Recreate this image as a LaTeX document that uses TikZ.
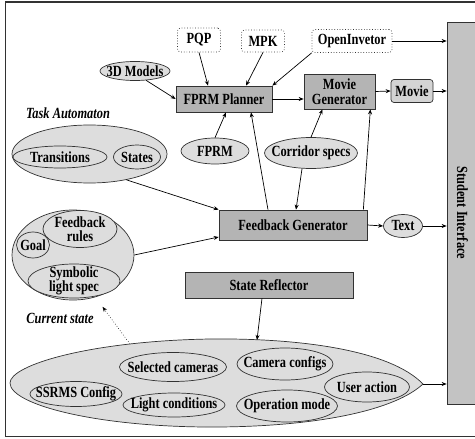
\documentclass[tikz,border=0pt]{standalone}
\usepackage{fontspec}
\setmainfont{Liberation Serif}[FakeStretch=0.8]
\usetikzlibrary{arrows.meta, shapes.geometric}

\definecolor{boxgray}{RGB}{180,180,180}
\definecolor{ovalgray}{RGB}{221,221,221}
\definecolor{sigray}{RGB}{195,195,195}
\definecolor{moviegray}{RGB}{212,212,212}
\definecolor{edgegray}{RGB}{50,50,50}

\begin{document}
\begin{tikzpicture}[x=1pt, y=-1pt, >={Stealth[length=5pt, width=4pt]},
  font=\fontsize{15.5}{14.5}\selectfont\bfseries,
  every node/.style={inner sep=0pt},
  block/.style={draw=edgegray, fill=boxgray, align=center, line width=0.7pt},
  tool/.style={draw=edgegray, dotted, rounded corners=3pt, fill=white, line width=0.7pt},
  oval/.style={ellipse, draw=edgegray, fill=ovalgray, line width=0.7pt},
  caption/.style={font=\fontsize{15.5}{14.5}\selectfont\bfseries\itshape},
  link/.style={->, line width=0.7pt, black}]
  \useasboundingbox (0,0) rectangle (475,439);
  \draw[edgegray, line width=1pt] (5,2) rectangle (480,436);

  % planning tools
  \node[tool, minimum width=43pt, minimum height=24pt] (pqp) at (199,40) {PQP};
  \node[tool, minimum width=43pt, minimum height=22pt] (mpk) at (263,41) {MPK};
  \node[tool, minimum width=80pt, minimum height=23pt] (openinv) at (352,41) {OpenInvetor};
  \node[oval, minimum width=70pt, minimum height=19pt, label=center:3D Models] (models) at (135,71) {};

  \node[block, minimum width=96pt, minimum height=26pt] (planner) at (224,99) {FPRM Planner};
  \node[block, minimum width=71pt, minimum height=35pt] (moviegen) at (339.5,91.5) {Movie\\Generator};
  \node[block, fill=moviegray, rounded corners=3pt, minimum width=42pt, minimum height=23pt] (movie) at (412,91) {Movie};
  \node[draw=edgegray, fill=sigray, line width=0.7pt, minimum width=31pt, minimum height=382pt,
        label={[rotate=-90]center:Student Interface}] (student) at (462.5,213) {};

  % task automaton
  \node[caption] (tasklbl) at (68,113) {Task Automaton};
  \node[oval, minimum width=155pt, minimum height=58pt] (task) at (89.5,154) {};
  \node[oval, minimum width=94pt, minimum height=22pt, label=center:Transitions] (trans) at (60,157) {};
  \node[oval, minimum width=47pt, minimum height=24pt, label=center:States] (states) at (137,157) {};

  \node[oval, minimum width=68pt, minimum height=26pt, label=center:FPRM] (fprm) at (215,151) {};
  \node[oval, minimum width=93pt, minimum height=31pt, label=center:Corridor specs] (corridor) at (311,153) {};
  \node[block, minimum width=148pt, minimum height=30pt] (feedback) at (293,225) {Feedback Generator};
  \node[oval, minimum width=39pt, minimum height=23pt, label=center:Text] (text) at (403,226) {};

  % current state
  \node[oval, minimum width=122pt, minimum height=90pt] (current) at (73,255) {};
  \node[oval, minimum width=74pt, minimum height=37pt, label={[align=center]center:Feedback\\rules}] (rules) at (80,229) {};
  \node[oval, minimum width=33pt, minimum height=26pt, label=center:Goal] (goal) at (33,245) {};
  \node[oval, minimum width=92pt, minimum height=34pt, label={[align=center]center:Symbolic\\light spec}] (light) at (74,281) {};
  \node[caption] (curlbl) at (60,318) {Current state};

  \node[block, minimum width=168pt, minimum height=26pt] (reflector) at (269,285) {State Reflector};

  % world state
  \coordinate (tip) at (423,384);
  \coordinate (eggtop) at (257,340);
  \coordinate (eggleft) at (130,344);
  \draw[draw=edgegray, fill=ovalgray, line width=0.7pt] (tip)
    .. controls (390,350) and (300,338) .. (210,339)
    .. controls (90,341) and (10,365) .. (10,383)
    .. controls (10,405) and (100,428) .. (220,427)
    .. controls (320,426) and (395,410) .. (tip) -- cycle;
  \node[oval, minimum width=92pt, minimum height=25pt, label=center:SSRMS Config] (ssrms) at (76,394) {};
  \node[oval, minimum width=107pt, minimum height=29pt, label=center:Selected cameras] (cameras) at (173,367) {};
  \node[oval, minimum width=102pt, minimum height=24pt, label=center:Light conditions] (lightcond) at (174,405) {};
  \node[oval, minimum width=96pt, minimum height=32pt, label=center:Camera configs] (camcfg) at (285,364) {};
  \node[oval, minimum width=101pt, minimum height=32pt, label=center:Operation mode] (opmode) at (287,406) {};
  \node[oval, minimum width=85pt, minimum height=30pt, label=center:User action] (useraction) at (367,387) {};

  % connectors
  \draw[link] (pqp.south) -- ([xshift=-16pt]planner.north);
  \draw[link] (mpk.south) -- ([xshift=22pt]planner.north);
  \draw[link] (openinv.south west) -- (planner.north east);
  \draw[link] (models.-40) -- (planner.west);
  \draw[link] (fprm.north) -- ([xshift=2pt]planner.south);
  \draw[link] (planner.east) -- (planner.east -| moviegen.west);
  \draw[link] (moviegen.east) -- (movie.west);
  \draw[link] (movie.east) -- (movie.east -| student.west);
  \draw[link] (openinv.east) -- (openinv.east -| student.west);
  \draw[link] (corridor.north) -- ([xshift=-17pt]moviegen.south);
  \draw[link] ([xshift=-9pt]corridor.south) -- ([xshift=3pt]feedback.north);
  \draw[link] ([xshift=-25pt]feedback.north) -- ([xshift=27pt]planner.south);
  \draw[link] ([xshift=-4pt]feedback.north east) -- ([xshift=-5pt]moviegen.south east);
  \draw[link] (task.-35) -- (feedback.north west);
  \draw[link] (current.east) -- ([yshift=-12pt]feedback.west);
  \draw[link] (feedback.east) -- (text.west);
  \draw[link] (text.east) -- (text.east -| student.west);
  \draw[link] ([xshift=-7pt]reflector.south) -- (eggtop);
  \draw[link] (tip) -- (tip -| student.west);
  \draw[link, dotted, line width=0.5pt, shorten >=12pt] (eggleft) -- (current.-62);
\end{tikzpicture}
\end{document}
